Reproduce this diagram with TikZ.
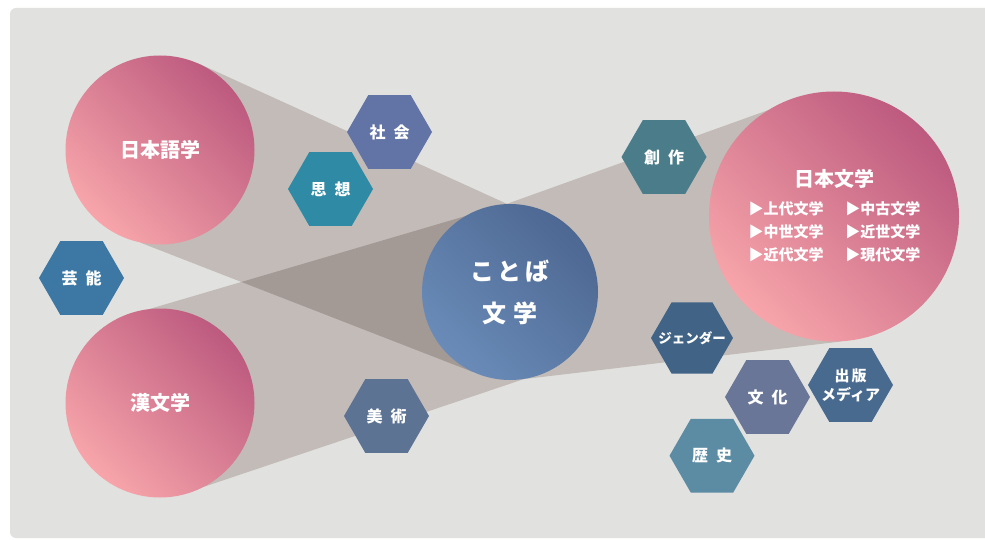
\documentclass[tikz,border=0pt]{standalone}
\usepackage{fontspec}
\usetikzlibrary{shapes.geometric}
\newfontfamily\jp{Noto Sans CJK JP}
\definecolor{bgGray}{HTML}{E1E1DF}
\definecolor{beam}{HTML}{C2BBB7}
\definecolor{beamDark}{HTML}{A39A96}
\definecolor{pinkLight}{HTML}{F7A5AA}
\definecolor{pinkDark}{HTML}{BD5A7F}
\definecolor{blueLight}{HTML}{6A8BB8}
\definecolor{blueDark}{HTML}{4D6892}
\definecolor{hexA}{HTML}{6273A5}
\definecolor{hexB}{HTML}{2E8AA5}
\definecolor{hexC}{HTML}{3C78A3}
\definecolor{hexD}{HTML}{5C7394}
\definecolor{hexE}{HTML}{4A7D89}
\definecolor{hexF}{HTML}{406386}
\definecolor{hexG}{HTML}{697697}
\definecolor{hexH}{HTML}{496A8F}
\definecolor{hexI}{HTML}{5C8BA4}
\pgfdeclarelayer{back}
\pgfsetlayers{back,main}
\newcommand{\jgap}{\hspace{8pt}}
\begin{document}
\begin{tikzpicture}[x=1pt,y=-1pt,
  ball/.style={circle,inner sep=0pt,minimum size=189pt,text=white,
    font=\jp\bfseries\fontsize{20}{24}\selectfont,
    top color=pinkDark,bottom color=pinkLight,shading angle=-45},
  hexa/.style={regular polygon,regular polygon sides=6,inner sep=0pt,
    minimum size=85pt,text=white,align=center,
    font=\jp\bfseries\fontsize{16}{19}\selectfont}]
\useasboundingbox (0,0) rectangle (985,540);
% circles
\node[ball] (C0) at (160,150) {日本語学};
\node[ball] (C1) at (160,403) {漢文学};
\node[ball,minimum size=176pt,top color=blueDark,bottom color=blueLight,shading angle=-45,
  align=center,font=\jp\bfseries\fontsize{24}{42}\selectfont] (C2) at (510,292)
  {こ\hspace{4pt}と\hspace{4pt}ば\\文\hspace{8pt}学};
\node[ball,minimum size=250pt] (C3) at (834,216.5) {};
\node[text=white,font=\jp\bfseries\fontsize{20}{24}\selectfont] (T0) at (834,178.5) {日本文学};
\node[text=white,font=\jp\bfseries\fontsize{15}{23.3}\selectfont] (T1) at (834.5,233)
  {\begin{tabular}{@{}l@{\hspace{22pt}}l@{}}
   ▶上代文学 & ▶中古文学\\
   ▶中世文学 & ▶近世文学\\
   ▶近代文学 & ▶現代文学
   \end{tabular}};
% hexagons
\node[hexa,fill=hexA] (H0) at (389.5,132) {社\jgap 会};
\node[hexa,fill=hexB] (H1) at (330.5,189) {思\jgap 想};
\node[hexa,fill=hexC] (H2) at (81.5,278) {芸\jgap 能};
\node[hexa,fill=hexD] (H3) at (386.5,416) {美\jgap 術};
\node[hexa,fill=hexE] (H4) at (664,157) {創\jgap 作};
\node[hexa,fill=hexF,minimum size=82pt,font=\jp\bfseries\fontsize{13.5}{16}\selectfont] (H5) at (692,338)
  {\makebox[30pt]{ジェンダー}};
\node[hexa,fill=hexG] (H6) at (767.5,397) {文\jgap 化};
\node[hexa,fill=hexH,font=\jp\bfseries\fontsize{15}{19}\selectfont] (H7) at (850.5,385)
  {\makebox[30pt]{出\hspace{2pt}版}\\\makebox[30pt]{メディア}};
\node[hexa,fill=hexI] (H8) at (712,455.7) {歴\jgap 史};
% beams behind
\begin{pgfonlayer}{back}
\fill[white] (0,0) rectangle (985,540);
\fill[bgGray,rounded corners=6pt] (10,8) rectangle (995,538);
\fill[beam] (C0.66) -- (C2.92) -- (C2.center) -- (C2.-115) -- (C0.-102) -- cycle;
\fill[beam] (C1.96) -- (C2.92) -- (C2.-81) -- (C1.-62) -- cycle;
\fill[beam] (C2.92) -- (C3.122) -- (C3.-87) -- (C2.-81) -- cycle;
\begin{scope}
\clip (C0.66) -- (C2.92) -- (C2.center) -- (C2.-115) -- (C0.-102) -- cycle;
\fill[beamDark] (C1.96) -- (C2.92) -- (C2.-81) -- (C1.-62) -- cycle;
\end{scope}
\end{pgfonlayer}
\end{tikzpicture}
\end{document}
